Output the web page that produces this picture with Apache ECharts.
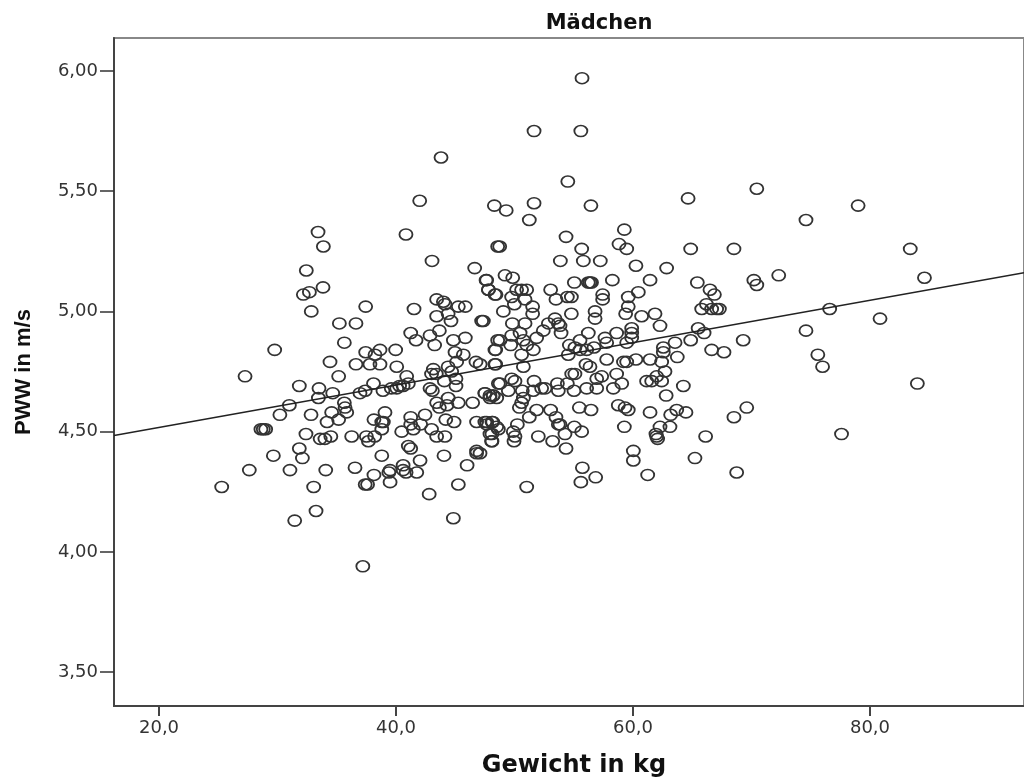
<!DOCTYPE html>
<html><head><meta charset="utf-8">
<script src="https://cdn.jsdelivr.net/npm/echarts@6/dist/echarts.min.js"></script>
<style>html,body{margin:0;padding:0;background:#fff}#c{width:1024px;height:783px}</style></head>
<body><div id="c"></div>
<script>
var titleText = 'Mädchen', xName = 'Gewicht in kg', yName = 'PWW in m/s';
var xTicks = [20, 40, 60, 80];
var yTicks = [3.5, 4, 4.5, 5, 5.5, 6];
var lineKg = [16.2, 93];
var linePww = [4.484, 5.161];
var kg = [
27.26,35.16,31.84,33.5,34.66,33.45,31,30.2,32.83,34.57,34.18,35.16,35.64,35.7,35.84,28.6,28.8,29,32.4,33.6,
34,34.5,36.26,31.84,29.65,32.1,27.62,31.05,34.07,36.54,25.29,33.05,33.25,31.45,37.5,37.67,38.2,38.14,39.07,38.93,
38.8,38.8,40.48,41.24,41.24,41.46,42.08,42.45,43,43.43,44.13,44.2,44.9,46.8,47.65,48.1,48.1,48.1,48.5,38.8,
41.04,41.24,42.03,44.05,46.8,46.8,46,40.6,39.5,39.4,40.6,40.85,41.75,38.14,37.6,39.5,42.8,45.26,44.84,38.1,
37.4,36.96,38.9,39.6,40.06,40.3,40.6,41.04,40.9,43,44.08,45.06,45.06,42.87,43.07,44.4,43.43,43.66,44.3,45.26,
46.47,47.5,47.93,48.2,48.5,48.64,
33.42,33.87,40.84,48.58,43.04,32.43,46.64,47.6,32.18,32.69,33.84,47.8,48.35,43.43,44,44.13,45.26,45.85,37.44,41.52,
32.85,43.43,44.4,44.64,47.23,35.22,36.62,43.66,41.24,41.69,42.87,43.26,44.84,45.85,35.64,48.58,48.35,37.44,38.65,38.23,
39.97,44.98,45.68,29.76,34.43,36.62,37.8,38.65,40.06,44.4,45.12,46.75,47.1,48.35,43.15,
51.25,48.75,54.35,59.27,55.67,58.82,59.47,64.87,68.52,53.87,55.81,57.24,60.25,62.84,49.2,49.85,47.65,55.05,56.23,56.37,
56.5,58.26,61.44,65.43,66.5,66.87,66.2,65.8,66.64,67.06,67.29,53.05,47.8,48.44,50.18,50.6,51.03,53.5,54.46,54.8,
57.44,57.44,60.45,59.6,59.6,59.38,60.73,61.86,62.28,56.8,56.8,54.8,49.06,49.76,49.99,50.89,51.53,51.53,47.37,49.82,
50.89,52.86,53.42,53.7,53.84,53.93,52.43,48.78,49.76,50.47,51.87,48.41,49.68,50.75,51.03,51.59,50.6,56.23,55.53,54.63,
55.1,55.53,56.09,56.71,54.54,57.64,57.78,58.62,59.47,59.89,59.89,59.89,63.55,62.56,62.56,64.87,65.5,66,66.64,67.68,
63.74,57.78,60.25,61.44,48.41,50.75,56.03,56.37,59.2,59.47,62.42,69.3,
58.62,62.7,62,61.15,61.58,62.42,64.25,62.8,49.76,50.04,48.78,49.48,47.51,47.93,48.2,51.65,50.66,51.59,52.29,52.58,
53.62,53.7,54.46,55.02,55.1,54.83,56.09,56.94,56.94,57.36,58.34,59.05,50.75,50.6,50.41,55.47,56.46,51.87,51.25,53.05,
53.5,53.7,53.84,55.05,55.67,54.26,50.24,49.9,50.04,49.96,52.01,53.22,54.35,58.76,59.33,59.6,61.44,59.27,64.47,63.69,
63.18,63.12,62.28,61.94,62,62.08,66.13,68.52,60.03,60.03,65.23,61.24,68.75,55.73,56.85,55.6,51.03,47.5,48.16,48.64,
47.93,48.07,47.65,47.09,69.6,
55.7,51.65,55.6,43.8,54.5,70.45,42,64.65,48.3,49.3,51.65,56.45,79,74.6,83.4,72.3,70.2,70.45,84.6,76.6,
80.85,74.6,75.6,76,84,77.6,37.2,43.4,44.7,37.4
];
var pww = [
4.73,4.73,4.69,4.68,4.66,4.64,4.61,4.57,4.57,4.58,4.54,4.55,4.62,4.6,4.58,4.51,4.51,4.51,4.49,4.47,
4.47,4.48,4.48,4.43,4.4,4.39,4.34,4.34,4.34,4.35,4.27,4.27,4.17,4.13,4.48,4.46,4.48,4.55,4.58,4.54,
4.54,4.51,4.5,4.56,4.53,4.51,4.53,4.57,4.51,4.48,4.48,4.55,4.54,4.54,4.54,4.54,4.49,4.46,4.52,4.4,
4.44,4.43,4.38,4.4,4.42,4.41,4.36,4.36,4.34,4.33,4.34,4.33,4.33,4.32,4.28,4.29,4.24,4.28,4.14,4.7,
4.67,4.66,4.67,4.68,4.68,4.69,4.69,4.7,4.73,4.74,4.71,4.72,4.69,4.68,4.67,4.64,4.62,4.6,4.61,4.62,
4.62,4.66,4.65,4.65,4.64,4.7,
5.33,5.27,5.32,5.27,5.21,5.17,5.18,5.13,5.07,5.08,5.1,5.09,5.07,5.05,5.04,5.03,5.02,5.02,5.02,5.01,
5,4.98,4.99,4.96,4.96,4.95,4.95,4.92,4.91,4.88,4.9,4.86,4.88,4.89,4.87,4.88,4.84,4.83,4.84,4.82,
4.84,4.83,4.82,4.84,4.79,4.78,4.78,4.78,4.77,4.77,4.79,4.79,4.78,4.78,4.76,
5.38,5.27,5.31,5.34,5.26,5.28,5.26,5.26,5.26,5.21,5.21,5.21,5.19,5.18,5.15,5.14,5.13,5.12,5.12,5.12,
5.12,5.13,5.13,5.12,5.09,5.07,5.03,5.01,5.01,5.01,5.01,5.09,5.09,5.07,5.09,5.09,5.09,5.05,5.06,5.06,
5.07,5.05,5.08,5.06,5.02,4.99,4.98,4.99,4.94,5,4.97,4.99,5,5.06,5.03,5.05,5.02,4.99,4.96,4.95,
4.95,4.95,4.97,4.95,4.94,4.91,4.92,4.88,4.9,4.91,4.89,4.84,4.86,4.88,4.86,4.84,4.82,4.91,4.88,4.86,
4.85,4.84,4.84,4.85,4.82,4.89,4.87,4.91,4.87,4.93,4.91,4.89,4.87,4.85,4.83,4.88,4.93,4.91,4.84,4.83,
4.81,4.8,4.8,4.8,4.78,4.77,4.78,4.77,4.79,4.79,4.79,4.88,
4.74,4.75,4.73,4.71,4.71,4.71,4.69,4.65,4.72,4.71,4.7,4.67,4.66,4.64,4.65,4.71,4.67,4.67,4.68,4.68,
4.7,4.67,4.7,4.67,4.74,4.74,4.68,4.68,4.72,4.73,4.68,4.7,4.64,4.62,4.6,4.6,4.59,4.59,4.56,4.59,
4.56,4.53,4.53,4.52,4.5,4.49,4.53,4.5,4.48,4.46,4.48,4.46,4.43,4.61,4.6,4.59,4.58,4.52,4.58,4.59,
4.57,4.52,4.52,4.49,4.48,4.47,4.48,4.56,4.42,4.38,4.39,4.32,4.33,4.35,4.31,4.29,4.27,4.54,4.54,4.51,
4.49,4.46,4.53,4.41,4.6,
5.97,5.75,5.75,5.64,5.54,5.51,5.46,5.47,5.44,5.42,5.45,5.44,5.44,5.38,5.26,5.15,5.13,5.11,5.14,5.01,
4.97,4.92,4.82,4.77,4.7,4.49,3.94,4.74,4.75,4.28
];
var comma = function (d) { return function (v) { return v.toFixed(d).replace('.', ','); }; };
var font = '"DejaVu Sans"';
var chart = echarts.init(document.getElementById('c'), null, {renderer: 'canvas'});
chart.setOption({
  animation: false,
  backgroundColor: '#fff',
  title: {text: titleText, left: 594, top: 8, textAlign: 'center',
    textStyle: {fontFamily: font, fontSize: 21, fontWeight: 'bold', color: '#111'}},
  grid: {left: 114, right: 0, top: 38, bottom: 76, show: true, borderColor: '#888', borderWidth: 2, containLabel: false},
  xAxis: {type: 'value', min: 16.2, max: 93, name: xName, nameLocation: 'middle', nameGap: 48,
    nameTextStyle: {fontFamily: font, fontSize: 24, fontWeight: 'bold', color: '#111', padding: [0, 0, 0, 10]},
    splitLine: {show: false},
    axisLine: {show: true, onZero: false, lineStyle: {color: '#444', width: 2}},
    axisTick: {show: true, length: 10, customValues: xTicks, lineStyle: {color: '#444', width: 2}},
    axisLabel: {customValues: xTicks, margin: 13, formatter: comma(1), fontFamily: font, fontSize: 18, color: '#333'}},
  yAxis: {type: 'value', min: 3.359, max: 6.137, name: yName, nameLocation: 'middle', nameGap: 79,
    nameTextStyle: {fontFamily: '"Liberation Sans"', fontSize: 22, fontWeight: 'bold', color: '#111'},
    splitLine: {show: false},
    axisLine: {show: true, onZero: false, lineStyle: {color: '#444', width: 2}},
    axisTick: {show: true, length: 14, customValues: yTicks, lineStyle: {color: '#333', width: 1.5}},
    axisLabel: {customValues: yTicks, margin: 16, formatter: comma(2), fontFamily: font, fontSize: 18, color: '#333'}},
  series: [
    {type: 'scatter', silent: true, data: kg.map(function (v, i) { return [v, pww[i]]; }),
     symbol: 'path://M0 10a10 10 0 1 0 20 0a10 10 0 1 0-20 0z', symbolKeepAspect: false, symbolSize: [13, 11],
     itemStyle: {color: 'rgba(0,0,0,0)', borderColor: '#333', borderWidth: 1.7, opacity: 1}},
    {type: 'line', silent: true, symbol: 'none', data: lineKg.map(function (v, i) { return [v, linePww[i]]; }),
     lineStyle: {color: '#222', width: 1.4}}
  ]
});
</script></body></html>
